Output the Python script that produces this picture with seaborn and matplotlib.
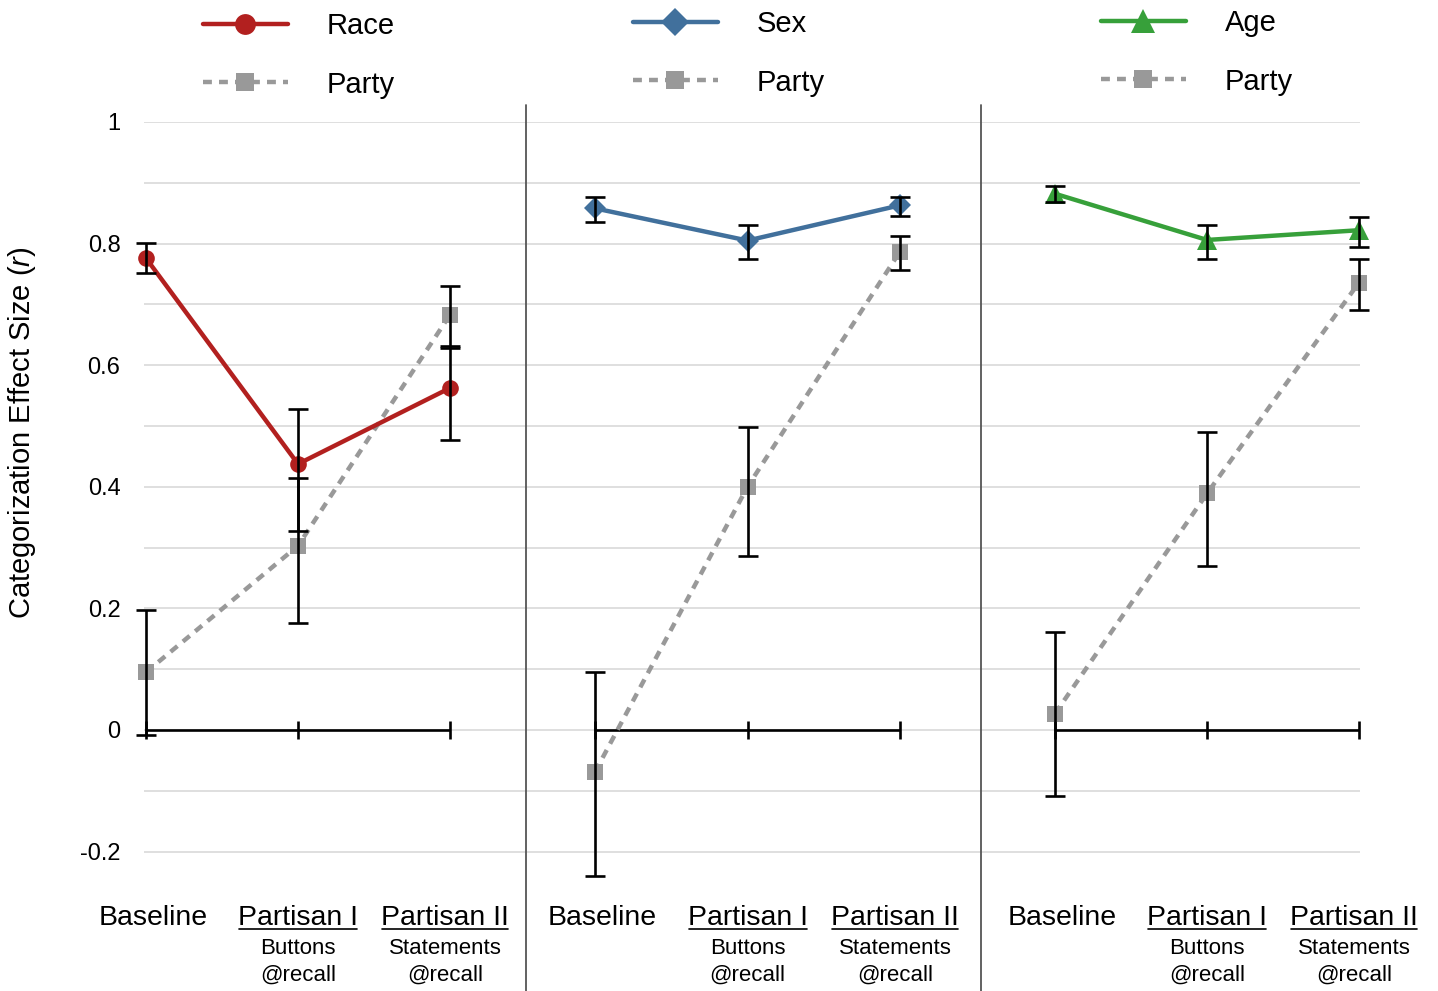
import numpy as np
import pandas as pd
import matplotlib
matplotlib.use("Agg")
import matplotlib.pyplot as plt
import matplotlib.transforms as mtransforms
from matplotlib.lines import Line2D
from matplotlib.ticker import FixedLocator, MultipleLocator
import seaborn as sns

# ---------------- data ----------------
conditions = ["Baseline", "Partisan I", "Partisan II"]
sub_line1 = ["", "Buttons", "Statements"]
sub_line2 = ["", "@recall", "@recall"]
panels = ["Race", "Sex", "Age"]

race_r = [0.776, 0.4375, 0.5625]
race_lo = [0.752, 0.328, 0.477]
race_hi = [0.801, 0.528, 0.632]
race_party_r = [0.095, 0.303, 0.683]
race_party_lo = [-0.009, 0.176, 0.628]
race_party_hi = [0.197, 0.414, 0.730]

sex_r = [0.858, 0.805, 0.863]
sex_lo = [0.835, 0.775, 0.846]
sex_hi = [0.876, 0.830, 0.877]
sex_party_r = [-0.069, 0.400, 0.787]
sex_party_lo = [-0.240, 0.287, 0.757]
sex_party_hi = [0.096, 0.498, 0.813]

age_r = [0.882, 0.806, 0.822]
age_lo = [0.868, 0.775, 0.794]
age_hi = [0.894, 0.830, 0.844]
age_party_r = [0.027, 0.389, 0.736]
age_party_lo = [-0.109, 0.270, 0.690]
age_party_hi = [0.162, 0.490, 0.774]

y_ticks = [-0.2, 0, 0.2, 0.4, 0.6, 0.8, 1]
y_tick_labels = ["-0.2", "0", "0.2", "0.4", "0.6", "0.8", "1"]

# ---------------- style ----------------
colors = {"Race": "#b2201f", "Sex": "#41709c", "Age": "#37a03a", "Party": "#999999"}
markers = {"Race": "o", "Sex": "D", "Age": "^", "Party": "s"}
marker_sizes = {"Race": 12, "Sex": 11, "Age": 14, "Party": 11.5}
dash_pattern = (2.0, 1.6)

sns.set_theme(style="white")
plt.rcParams["font.family"] = ["Liberation Sans", "DejaVu Sans"]
plt.rcParams["mathtext.fontset"] = "custom"
plt.rcParams["mathtext.it"] = "Liberation Sans:italic"
plt.rcParams["mathtext.rm"] = "Liberation Sans"
plt.rcParams["text.color"] = "black"
plt.rcParams["axes.labelcolor"] = "black"

W, H = 1438, 991
fig = plt.figure(figsize=(W / 100, H / 100), dpi=100)

panel_data = {
    "Race": (race_r, race_lo, race_hi, race_party_r, race_party_lo, race_party_hi),
    "Sex": (sex_r, sex_lo, sex_hi, sex_party_r, sex_party_lo, sex_party_hi),
    "Age": (age_r, age_lo, age_hi, age_party_r, age_party_lo, age_party_hi),
}

# pixel layout of each panel: axes left, axes right, first category x, spacing
layout = [(144, 526, 146, 152.0), (526, 981, 595, 152.5), (981, 1360, 1055, 152.0)]
y_top_px, y_bot_px = 122, 882
ymin, ymax = -0.25, 1.0

label_fs = 20.5
sub_fs = 16
label_dx = [7, 0, -5]  # small horizontal nudges of the category labels (px)
underline_texts = []

for p, name in enumerate(panels):
    axl, axr, c0, sp = layout[p]
    ax = fig.add_axes([axl / W, 1 - y_bot_px / H, (axr - axl) / W, (y_bot_px - y_top_px) / H])
    ax.set_xlim(-(c0 - axl) / sp, (axr - c0) / sp)
    ax.set_ylim(ymin, ymax)
    for s in ax.spines.values():
        s.set_visible(False)
    ax.yaxis.set_major_locator(FixedLocator(y_ticks))
    ax.yaxis.set_minor_locator(MultipleLocator(0.1))
    ax.grid(True, which="both", axis="y", color="#d9d9d9", linewidth=1.2, zorder=0)
    ax.set_axisbelow(True)

    r, lo, hi, pr, plo, phi = panel_data[name]
    xs = list(range(len(conditions)))
    df = pd.DataFrame({
        "x": xs + xs,
        "r": list(r) + list(pr),
        "series": [name] * 3 + ["Party"] * 3,
    })
    # zero axis line with ticks
    ax.hlines(0, xs[0], xs[-1], color="black", linewidth=1.9, zorder=3)
    ax.plot(xs, [0] * len(xs), linestyle="none", marker="|", markersize=13,
            markeredgewidth=1.9, color="black", zorder=3)

    n_before = len(ax.get_lines())
    sns.lineplot(data=df, x="x", y="r", hue="series", style="series",
                 hue_order=["Party", name], style_order=["Party", name],
                 palette={name: colors[name], "Party": colors["Party"]},
                 markers={name: markers[name], "Party": "s"},
                 dashes={name: "", "Party": dash_pattern},
                 markersize=12, linewidth=3.2, markeredgewidth=0,
                 estimator=None, sort=False, legend=False, ax=ax, zorder=4)
    new_lines = ax.get_lines()[n_before:]
    for line, key in zip(new_lines, ["Party", name]):
        line.set_clip_on(False)
        line.set_markersize(marker_sizes[key])

    for vals, l_, h_ in ((r, lo, hi), (pr, plo, phi)):
        v = np.array(vals); l_ = np.array(l_); h_ = np.array(h_)
        ax.errorbar(xs, v, yerr=[v - l_, h_ - v], fmt="none", ecolor="black",
                    elinewidth=1.9, capsize=7, capthick=1.9, zorder=6, clip_on=False)

    ax.set_xlabel("")
    ax.set_ylabel("")
    ax.set_xticks([])
    ax.yaxis.set_major_locator(FixedLocator(y_ticks))
    ax.tick_params(axis="y", which="both", length=0, pad=17, labelsize=17, colors="black")
    if p == 0:
        ax.set_yticklabels(y_tick_labels)
    else:
        ax.set_yticklabels([])

    # x labels
    trans = mtransforms.blended_transform_factory(ax.transData, fig.transFigure)
    for i, cond in enumerate(conditions):
        tr = trans + mtransforms.ScaledTranslation(label_dx[i] / 100, 0, fig.dpi_scale_trans)
        t = ax.text(i, 1 - 925 / H, cond, transform=tr, ha="center", va="baseline",
                    fontsize=label_fs, color="black")
        if sub_line1[i]:
            underline_texts.append(t)
            ax.text(i, 1 - 954 / H, sub_line1[i], transform=tr, ha="center",
                    va="baseline", fontsize=sub_fs, color="black")
            ax.text(i, 1 - 981 / H, sub_line2[i], transform=tr, ha="center",
                    va="baseline", fontsize=sub_fs, color="black")

    # legend
    handles = [
        Line2D([], [], color=colors[name], linewidth=3.2, marker=markers[name],
               markersize=marker_sizes[name] + 3, markeredgewidth=0),
        Line2D([], [], color=colors["Party"], linewidth=3.2, marker="s",
               markersize=marker_sizes["Party"] + 2, markeredgewidth=0,
               dashes=dash_pattern),
    ]
    leg_left = [203, 633, 1101][p]
    leg_top = [12, 10, 9][p]
    leg = ax.legend(handles, [name, "Party"], loc="upper left",
                    bbox_to_anchor=(leg_left / W, 1 - leg_top / H),
                    bbox_transform=fig.transFigure, frameon=False, fontsize=21,
                    handlelength=2.9, handletextpad=1.35, labelspacing=1.05,
                    borderpad=0, borderaxespad=0)
    for txt in leg.get_texts():
        txt.set_color("black")

# y label
fig.text(22 / W, 1 - 433 / H, "Categorization Effect Size $(r)$", rotation=90,
         ha="center", va="center", fontsize=21, color="black")

# panel separators
for xpx in (526, 981):
    fig.add_artist(Line2D([xpx / W, xpx / W], [1 - 105 / H, 0], color="#555555",
                          linewidth=1.3, transform=fig.transFigure))

# underline the partisan labels
fig.canvas.draw()
renderer = fig.canvas.get_renderer()
inv = fig.transFigure.inverted()
for t in underline_texts:
    bb = t.get_window_extent(renderer=renderer)
    base = t.get_transform().transform(t.get_position())
    y = base[1] - 3.5
    p0 = inv.transform((bb.x0 + 1, y))
    p1 = inv.transform((bb.x1 - 1, y))
    fig.add_artist(Line2D([p0[0], p1[0]], [p0[1], p1[1]], color="black",
                          linewidth=1.2, transform=fig.transFigure))

fig.savefig("out.png", dpi=100)
